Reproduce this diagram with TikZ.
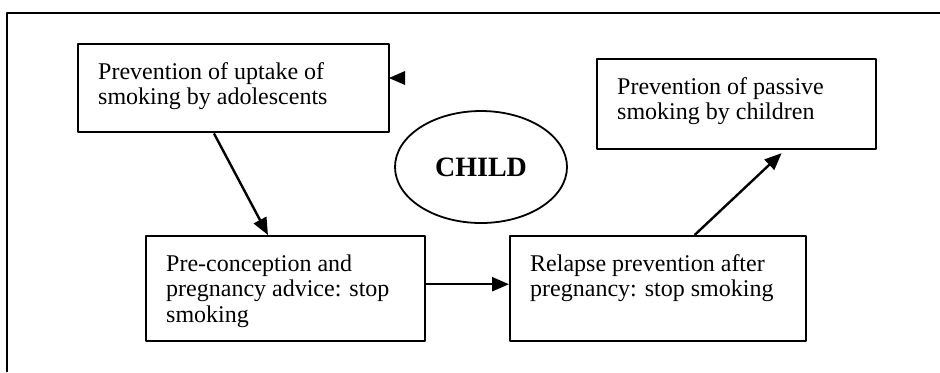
\documentclass[tikz,border=0pt]{standalone}
\usepackage{fontspec}
\setmainfont{Liberation Serif}
\usetikzlibrary{arrows.meta,calc,shapes.geometric}
\newcommand{\boxlines}[3]{\parbox[c][#2][t]{#1}{\fontsize{12}{12.75}\selectfont\vspace*{8.6pt}\raggedright\strut #3}}

\begin{document}
\begin{tikzpicture}[x=0.5pt,y=-0.5pt,>={Triangle[length=8.5pt,width=7pt]},line join=round,
  box/.style={draw,line width=1.2pt,rectangle,inner xsep=10pt,inner ysep=0pt,anchor=north west},
  link/.style={->,line width=1.2pt}]
  \useasboundingbox (0,0) rectangle (940,372);
  \draw[line width=1.2pt] (7,372) -- (7,13) -- (940,13);
  \node[box] (uptake) at (77,43) {\boxlines{135.5pt}{44pt}{Prevention of uptake of\\ smoking by adolescents}};
  \node[box] (passive) at (596,58) {\boxlines{119.5pt}{45pt}{Prevention of passive\\ smoking by children}};
  \node[box] (precon) at (145,235) {\boxlines{119.5pt}{52.5pt}{Pre-conception and\\ pregnancy advice: stop\\ smoking}};
  \node[box] (relapse) at (509,235) {\boxlines{128pt}{52.5pt}{Relapse prevention after\\ pregnancy: stop smoking}};
  \node[ellipse,draw,line width=0.9pt,minimum width=86pt,minimum height=56pt,inner sep=0pt,
    font=\fontsize{14}{16}\selectfont\bfseries] (child) at (481,167) {CHILD};
  \fill (389,78) -- (405,71) -- (405,85) -- cycle;
  \draw[link] ($(uptake.south west)!.437!(uptake.south east)$) -- ($(precon.north west)!.437!(precon.north east)$);
  \draw[link] ([yshift=2.25pt]precon.east) -- ([yshift=2.25pt]relapse.west);
  \draw[link,shorten >=2pt] ($(relapse.north west)!.622!(relapse.north east)$) -- ($(passive.south west)!.67!(passive.south east)$);
\end{tikzpicture}
\end{document}
